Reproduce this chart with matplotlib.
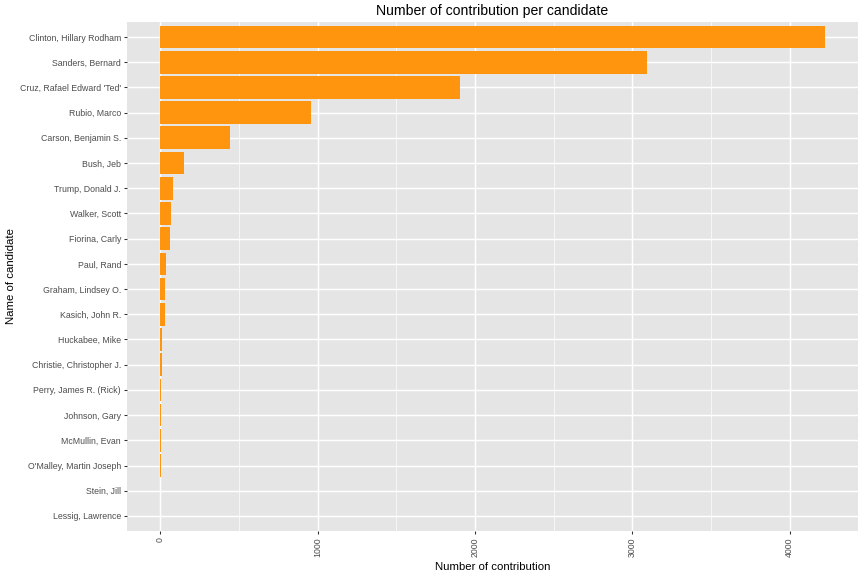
import matplotlib.pyplot as plt
import numpy as np

candidates = ["Clinton, Hillary Rodham", "Sanders, Bernard", "Cruz, Rafael Edward 'Ted'",
              "Rubio, Marco", "Carson, Benjamin S.", "Bush, Jeb", "Trump, Donald J.",
              "Walker, Scott", "Fiorina, Carly", "Paul, Rand", "Graham, Lindsey O.",
              "Kasich, John R.", "Huckabee, Mike", "Christie, Christopher J.",
              "Perry, James R. (Rick)", "Johnson, Gary", "McMullin, Evan",
              "O'Malley, Martin Joseph", "Stein, Jill", "Lessig, Lawrence"]
contributions = [4222, 3090, 1905, 959, 444, 152, 83, 70, 63, 38, 32, 32,
                 13, 12, 7, 6, 6, 6, 1, 1]
xticks = [0, 1000, 2000, 3000, 4000]

plt.rcParams['font.family'] = ['Liberation Sans', 'DejaVu Sans']

fig = plt.figure(figsize=(9, 6), dpi=96)
ax = fig.add_axes([0.147, 0.078, 0.846, 0.884])
ax.set_facecolor('#E5E5E5')

y = np.arange(len(candidates))[::-1]
ax.barh(y, contributions, height=0.9, color='#FF950E', zorder=3)

ax.set_xlim(-211, 4433)
ax.set_ylim(-0.6, len(candidates) - 0.4)
ax.set_xticks(xticks)
ax.set_xticks([500, 1500, 2500, 3500], minor=True)
ax.set_xticklabels([str(t) for t in xticks], rotation=90)
ax.set_yticks(y)
ax.set_yticklabels(candidates)

ax.grid(which='major', color='white', linewidth=1.1, zorder=0)
ax.grid(which='minor', axis='x', color='white', linewidth=0.5, zorder=0)
ax.tick_params(axis='both', which='major', length=2.5, width=0.8, color='#333333',
               labelsize=6.6, labelcolor='#4D4D4D', pad=2)
ax.tick_params(axis='x', which='minor', length=0)
for s in ax.spines.values():
    s.set_visible(False)

ax.set_title('Number of contribution per candidate', fontsize=10.5, pad=5)
ax.set_xlabel('Number of contribution', fontsize=8.5, labelpad=4)
ax.set_ylabel('Name of candidate', fontsize=8.5, labelpad=3)

fig.savefig('out.png', dpi=96)
